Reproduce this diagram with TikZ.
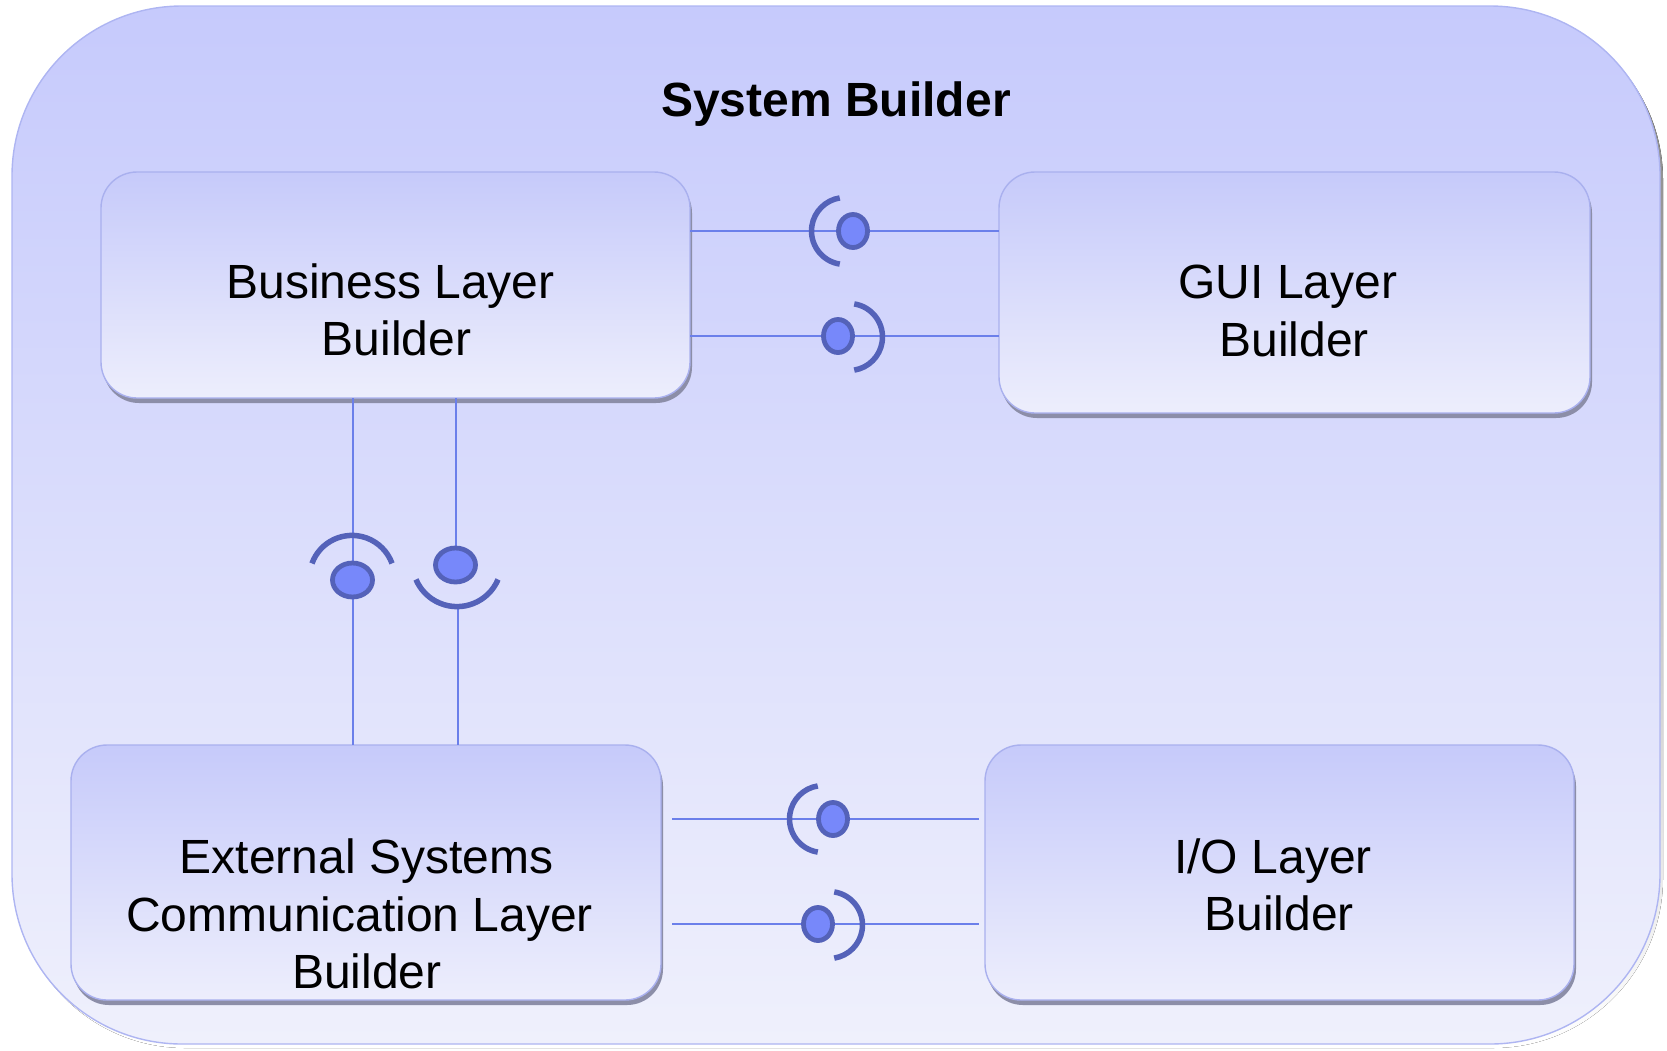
\documentclass[tikz,border=0pt]{standalone}
\usepackage{fontspec}
\setmainfont{Liberation Sans}
\usetikzlibrary{shapes.geometric,calc}

\definecolor{outtop}{HTML}{C6CAFC}
\definecolor{outbot}{HTML}{EFF0FC}
\definecolor{outline}{HTML}{AEB5F2}
\definecolor{boxtop}{HTML}{C6CAFA}
\definecolor{boxbot}{HTML}{EDEEFC}
\definecolor{boxline}{HTML}{A9B0EE}
\definecolor{shade}{HTML}{8C8EA8}
\definecolor{wire}{HTML}{6B7FEA}
\definecolor{sockcol}{HTML}{5462B9}
\definecolor{ballfill}{HTML}{7788FA}

\pgfdeclarelayer{back}
\pgfsetlayers{back,main}

\tikzset{
  shadowbox/.style={fill=shade, draw=none},
  layerbox/.style={draw=boxline, line width=1.4pt, top color=boxtop, bottom color=boxbot, rounded corners=36pt},
  label/.style={align=center, font=\fontsize{48}{57.4}\selectfont, inner sep=0pt},
  wireline/.style={draw=wire, line width=2pt},
  socket/.style={draw=sockcol, line width=5.5pt},
  ball/.style={ellipse, draw=sockcol, fill=ballfill, line width=4.8pt, inner sep=0pt},
}

\begin{document}
\begin{tikzpicture}[x=1pt, y=-1pt]
\useasboundingbox (0,0) rectangle (1667,1050);

\begin{pgfonlayer}{back}
% outer container
\fill[shade, rounded corners=170pt] (15,10) rectangle (1663,1048);
\path[draw=outline, line width=1.4pt, top color=outtop, bottom color=outbot, rounded corners=170pt]
  (12,6) rectangle (1660,1044);

% layer boxes with their shadows
\fill[shadowbox, rounded corners=36pt] (103,177) rectangle (692,403);
\fill[shadowbox, rounded corners=36pt] (1001,177) rectangle (1592,418);
\fill[shadowbox, rounded corners=36pt] (73,750) rectangle (663,1005);
\fill[shadowbox, rounded corners=36pt] (987,750) rectangle (1576,1005);

\path[layerbox] (101,172) rectangle (690,398);
\path[layerbox] (999,172) rectangle (1590,413);
\path[layerbox] (71,745) rectangle (661,1000);
\path[layerbox] (985,745) rectangle (1574,1000);
\end{pgfonlayer}

\node[font=\fontsize{48}{57.4}\selectfont\bfseries, inner sep=0pt] (title) at (836,104) {System Builder};

\coordinate (busE) at (690,285);
\coordinate (busS) at (395.5,398);
\coordinate (guiW) at (999,292.5);
\coordinate (extN) at (366,745);
\coordinate (extE) at (661,872.5);
\coordinate (ioW) at (985,872.5);

\node[label] (busT) at (390.5,310) {Business Layer\\\hspace*{12pt}Builder};
\node[label] (guiT) at (1288,311) {GUI Layer\\\hspace*{12pt}Builder};
\node[label] (extT) at (359.5,914) {\hspace*{14pt}External Systems\\Communication Layer\\\hspace*{15pt}Builder};
\node[label] (ioT) at (1273,885) {I/O Layer\\\hspace*{12pt}Builder};

% interface balls
\node[ball, minimum width=29pt, minimum height=33pt] (s1) at (853,231) {};
\node[ball, minimum width=29pt, minimum height=33pt] (s2) at (838,336) {};
\node[ball, minimum width=29pt, minimum height=33pt] (s3) at (833,819) {};
\node[ball, minimum width=29pt, minimum height=33pt] (s4) at (818,924) {};
\node[ball, minimum width=40pt, minimum height=34pt] (s5) at (352.5,580) {};
\node[ball, minimum width=40pt, minimum height=34pt] (s6) at (455.5,565) {};

% wires between the layers
\begin{pgfonlayer}{back}
\draw[wireline] (busE |- s1) -- (s1.west);
\draw[wireline] (s1.east) -- (guiW |- s1);
\draw[wireline] (busE |- s2) -- (s2.west);
\draw[wireline] (s2.east) -- (guiW |- s2);
\draw[wireline] ($(extE |- s3)+(11,0)$) -- (s3.west);
\draw[wireline] (s3.east) -- ($(ioW |- s3)+(-6,0)$);
\draw[wireline] ($(extE |- s4)+(11,0)$) -- (s4.west);
\draw[wireline] (s4.east) -- ($(ioW |- s4)+(-6,0)$);
\draw[wireline] (s5 |- busS) -- (s5.north);
\draw[wireline] (s5.south) -- (s5 |- extN);
\draw[wireline] (s6 |- busS) -- (s6.north);
\coordinate (c6) at (458,607);
\draw[wireline] (c6) -- (c6 |- extN);
\end{pgfonlayer}

% sockets
\draw[socket] (845,231) ++(99:33.5) arc[start angle=99, end angle=261, radius=33.5];
\draw[socket] (849,337) ++(-81:33.5) arc[start angle=-81, end angle=81, radius=33.5];
\draw[socket] (823,819) ++(99:33.5) arc[start angle=99, end angle=261, radius=33.5];
\draw[socket] (829,925) ++(-81:33.5) arc[start angle=-81, end angle=81, radius=33.5];
\draw[socket] (352,578) ++(200:42.6) arc[start angle=200, end angle=340, radius=42.6];
\draw[socket] (457,562) ++(23:44.6) arc[start angle=23, end angle=157, radius=44.6];
\end{tikzpicture}
\end{document}
